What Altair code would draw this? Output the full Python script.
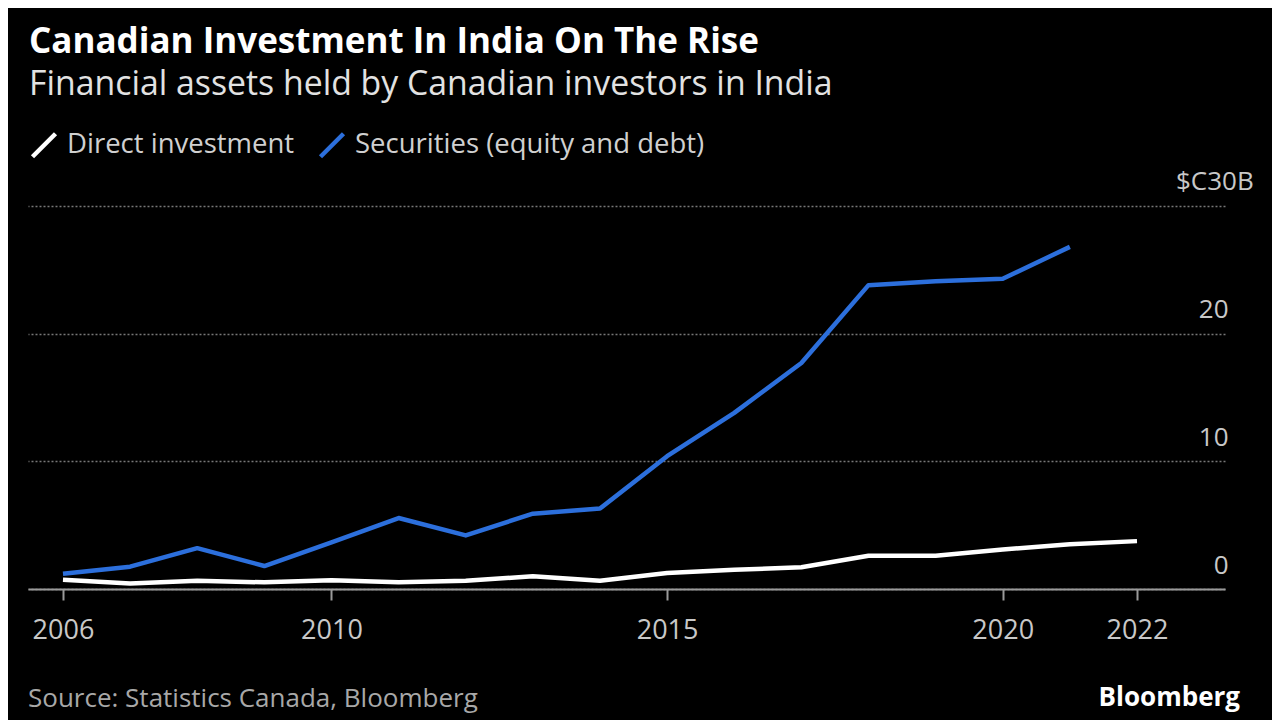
import altair as alt
import pandas as pd

years = list(range(2006, 2023))
direct = [0.73, 0.44, 0.65, 0.52, 0.68, 0.52, 0.65, 1.0, 0.65, 1.25, 1.5, 1.7, 2.6, 2.6, 3.1, 3.5, 3.75]
securities = [1.2, 1.75, 3.2, 1.8, 3.65, 5.56, 4.2, 5.9, 6.3, 10.4, 13.8, 17.7, 23.8, 24.1, 24.3, 26.8, None]
series_names = ["Direct investment", "Securities (equity and debt)"]
series_colors = ["#ffffff", "#2c6fdc"]
x_ticks = [2006, 2010, 2015, 2020, 2022]
y_ticks = [0, 10, 20, 30]
y_top_label = "$C30B"

rows = []
for y, d, s in zip(years, direct, securities):
    rows.append({"year": y, "series": series_names[0], "value": d})
    if s is not None:
        rows.append({"year": y, "series": series_names[1], "value": s})
df = pd.DataFrame(rows)

FONT = "Open Sans"

y_scale = alt.Scale(domain=[0, 30], nice=False)

lines = alt.Chart(df).mark_line(strokeWidth=4.5, strokeJoin="round").encode(
    x=alt.X("year:Q",
            scale=alt.Scale(domain=[2005.479, 2023.311], nice=False, zero=False),
            axis=alt.Axis(values=x_ticks, format="d", title=None, grid=False,
                          tickSize=11, tickColor="#9a9a9a", tickWidth=2,
                          domainColor="#9a9a9a", domainWidth=2,
                          labelFont=FONT, labelFontSize=27, labelColor="#c8c8c8",
                          labelPadding=17)),
    y=alt.Y("value:Q",
            scale=y_scale,
            axis=alt.Axis(orient="right", values=y_ticks, title=None,
                          domain=False, ticks=False,
                          grid=True, gridDash=[2, 2], gridColor="#777777", gridWidth=1.5,
                          labelAlign="right", labelBaseline="alphabetic",
                          labelOffset=-16, labelPadding=3,
                          labelFont=FONT, labelFontSize=26, labelColor="#c8c8c8",
                          labelExpr="datum.value == 30 ? '' : datum.label")),
    color=alt.Color("series:N",
                    scale=alt.Scale(domain=series_names, range=series_colors),
                    legend=alt.Legend(orient="none", legendX=2, legendY=-75,
                                      direction="horizontal", title=None,
                                      symbolType="M-1,1L1,-1", symbolSize=529,
                                      symbolStrokeWidth=4.5,
                                      labelFont=FONT, labelFontSize=27.5,
                                      labelColor="#d0d0d0", labelOffset=9,
                                      labelLimit=0,
                                      columnPadding=16, padding=0)),
    order=alt.Order("year:Q"),
)

top_label = alt.Chart(pd.DataFrame({"t": [y_top_label], "v": [30]})).mark_text(
    font=FONT, fontSize=26, color="#c8c8c8", align="left", baseline="alphabetic", dy=-16
).encode(text="t:N", x=alt.value(1148), y=alt.Y("v:Q", scale=y_scale))


def text_layer(txt, x, y, size, color, weight="normal", align="left"):
    return alt.Chart(pd.DataFrame({"t": [txt]})).mark_text(
        font=FONT, fontSize=size, color=color, fontWeight=weight,
        align=align, baseline="alphabetic"
    ).encode(text="t:N", x=alt.value(x), y=alt.value(y))


title = text_layer("Canadian Investment In India On The Rise", 1, -152.7, 35, "#ffffff", "bold")
subtitle = text_layer("Financial assets held by Canadian investors in India", 1, -111, 33.8, "#e2e2e2")
source = text_layer("Source: Statistics Canada, Bloomberg", 0, 500.7, 26, "#a8a8a8")
brand = text_layer("Bloomberg", 1212, 500, 26, "#ffffff", "bold", "right")

chart = alt.layer(lines, top_label, title, subtitle, source, brand).properties(
    width=1197, height=383,
    autosize=alt.AutoSizeParams(type="none"),
    padding={"left": 20, "top": 198, "right": 47, "bottom": 131},
    background="#000000",
).configure_view(stroke=None)

chart.save("out.html", embed_options={"renderer": "svg", "actions": False})
